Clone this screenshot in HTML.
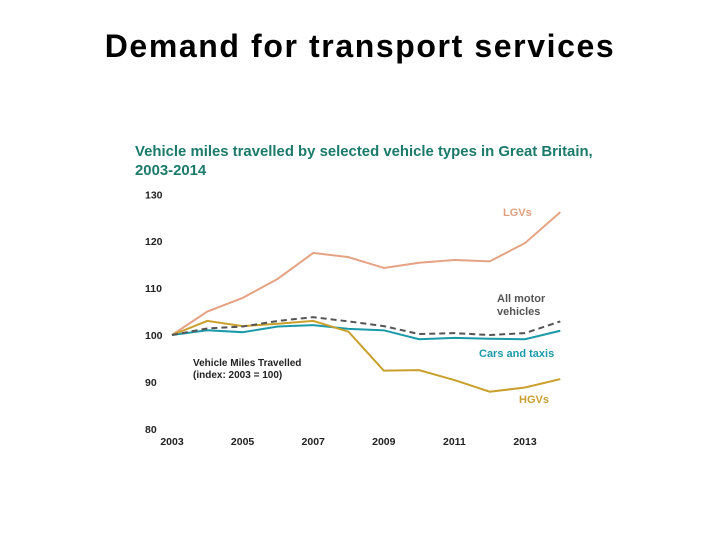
<!DOCTYPE html>
<html><head><meta charset="utf-8"><style>
body{margin:0;background:#fff;width:720px;height:540px;overflow:hidden;font-family:"Liberation Sans",sans-serif}
</style></head><body>
<svg width="720" height="540">
<text x="360" y="57" text-anchor="middle" font-size="32" font-weight="bold" letter-spacing="1.6" fill="#000">Demand for transport services</text>
<text x="135" y="156" font-size="14.9" font-weight="bold" fill="#1b7a6a">Vehicle miles travelled by selected vehicle types in Great Britain,</text>
<text x="135" y="175" font-size="14.9" font-weight="bold" fill="#1b7a6a">2003-2014</text>
<g id="axes"></g>
<g id="series"></g>
<text x="193" y="366" font-size="10" font-weight="bold" fill="#222">Vehicle Miles Travelled</text>
<text x="193" y="378" font-size="10" font-weight="bold" fill="#222">(index: 2003 = 100)</text>
<text x="503" y="216" font-size="11" font-weight="bold" fill="#e0a080">LGVs</text>
<text x="497" y="302" font-size="11" font-weight="bold" fill="#555">All motor</text>
<text x="497" y="315" font-size="11" font-weight="bold" fill="#555">vehicles</text>
<text x="479" y="357" font-size="11" font-weight="bold" fill="#1a9aa8">Cars and taxis</text>
<text x="519" y="403" font-size="11" font-weight="bold" fill="#c8a030">HGVs</text>
</svg>
<script>
const years=[2003,2004,2005,2006,2007,2008,2009,2010,2011,2012,2013,2014];
const lgv=[100,105,107.9,112,117.5,116.6,114.3,115.4,116,115.7,119.6,126.2];
const hgv=[100,103,101.9,102.4,103,100.7,92.4,92.5,90.4,87.9,88.8,90.6];
const cars=[100,101,100.6,101.8,102.1,101.3,101,99.1,99.4,99.2,99.1,100.9];
const allMotor=[100,101.4,101.8,103,103.8,102.9,101.9,100.2,100.4,100,100.4,102.9];
const yTicks=[80,90,100,110,120,130];
const xTicks=[2003,2005,2007,2009,2011,2013];
const NS='http://www.w3.org/2000/svg';
const x=v=>172+(v-2003)*35.3;
const y=v=>335-(v-100)*4.69;
const ax=document.getElementById('axes'),sg=document.getElementById('series');
yTicks.forEach(t=>{const e=document.createElementNS(NS,'text');e.setAttribute('x',145);e.setAttribute('y',y(t)+4);e.setAttribute('font-size','10.5');e.setAttribute('font-weight','bold');e.setAttribute('fill','#222');e.textContent=t;


ax.appendChild(e);});
xTicks.forEach(t=>{const e=document.createElementNS(NS,'text');e.setAttribute('x',x(t));e.setAttribute('y',445);e.setAttribute('text-anchor','middle');e.setAttribute('font-size','10.5');e.setAttribute('font-weight','bold');e.setAttribute('fill','#222');e.textContent=t;


ax.appendChild(e);});
function line(vals,color,name,dash){const p=document.createElementNS(NS,'polyline');p.setAttribute('points',vals.map((v,i)=>x(years[i])+','+y(v)).join(' '));p.setAttribute('fill','none');p.setAttribute('stroke',color);p.setAttribute('stroke-width','2');if(dash)p.setAttribute('stroke-dasharray',dash);


sg.appendChild(p);}
line(lgv,'#e4a384','line-lgvs');
line(cars,'#1a9aa8','line-cars');
line(hgv,'#c9a02c','line-hgvs');
line(allMotor,'#555','line-all-motor','6,4');
</script>
</body></html>
